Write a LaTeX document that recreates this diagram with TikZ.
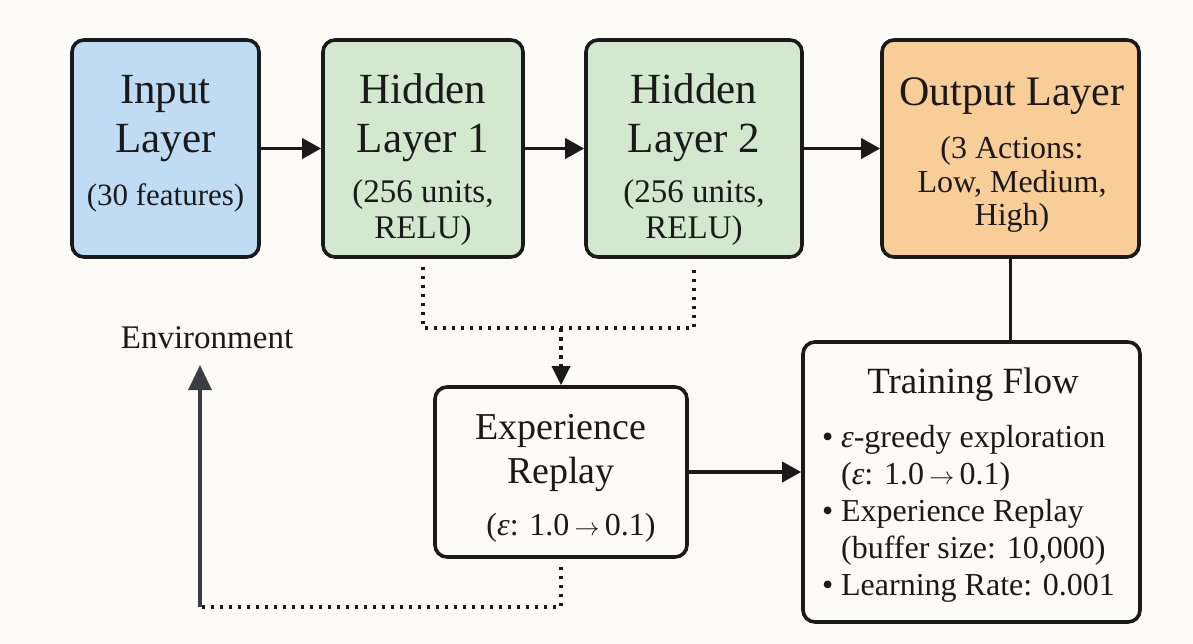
\documentclass[tikz,border=0pt]{standalone}
\usepackage{fontspec}
\setmainfont{Liberation Serif}
\usetikzlibrary{arrows.meta}

\definecolor{paper}{RGB}{252,251,247}
\definecolor{inblue}{RGB}{191,220,244}
\definecolor{hidgreen}{RGB}{212,232,207}
\definecolor{outorange}{RGB}{248,205,152}
\definecolor{ink}{RGB}{26,26,26}
\definecolor{envgray}{RGB}{58,61,66}

\newcommand{\subfont}{\fontsize{32}{36}\selectfont}
\newcommand{\eps}{\textit{ε}}
\newcommand{\goesto}{\,\ensuremath{\rightarrow}\,}

\begin{document}
\begin{tikzpicture}[x=1pt,y=-1pt,
  box/.style={draw=ink, line width=3.6pt, rounded corners=12pt, inner sep=0pt},
  layerbox/.style={box, minimum height=217pt},
  boxtext/.style={anchor=base, inner sep=0pt, text=ink, align=center},
  flow/.style={draw=ink, line width=3.6pt, -{Triangle[length=19pt,width=20pt]}},
  dotline/.style={draw=ink, line width=3.6pt, dash pattern=on 3.5pt off 5.5pt},
  plain/.style={draw=ink, line width=3.6pt},
]
% page
\fill[paper] (0,0) rectangle (1193,643);
\useasboundingbox (0,0) rectangle (1193,643);

% network layers
\node[layerbox, fill=inblue, minimum width=187pt] (in) at (165.5,148.5) {};
\node[layerbox, fill=hidgreen, minimum width=200pt] (h1) at (423,148.5) {};
\node[layerbox, fill=hidgreen, minimum width=216pt] (h2) at (694,148.5) {};
\node[layerbox, fill=outorange, minimum width=257pt] (out) at (1010.5,148.5) {};

\node[boxtext, font=\fontsize{43}{49}\selectfont] (intext) at (165.5,205)
  {Input\\Layer\\[4pt]{\fontsize{31}{35}\selectfont (30 features)}};
\node[boxtext, font=\fontsize{43}{49}\selectfont] (h1text) at (423,238)
  {Hidden\\Layer 1\\[1pt]{\fontsize{33}{36}\selectfont (256 units,}\\[-13pt]{\fontsize{33}{36}\selectfont RELU)}};
\node[boxtext, font=\fontsize{43}{49}\selectfont] (h2text) at (694,238)
  {Hidden\\Layer 2\\[1pt]{\fontsize{33}{36}\selectfont (256 units,}\\[-13pt]{\fontsize{33}{36}\selectfont RELU)}};
\node[boxtext, font=\fontsize{42}{49}\selectfont] (outtext) at (1012,225)
  {Output Layer\\[4pt]{\subfont (3 Actions:}\\[-15pt]{\subfont Low, Medium,}\\[-16pt]{\subfont High)}};

% replay buffer
\node[box, fill=paper, minimum width=252pt, minimum height=170pt] (exp) at (561,472) {};
\node[boxtext, font=\fontsize{38}{44}\selectfont] (exptext) at (561,535)
  {Experience\\Replay\\[8pt]{\subfont\hspace*{20pt}(\eps: 1.0\goesto 0.1)}};

% training summary
\node[box, fill=paper, minimum width=337pt, minimum height=280pt] (train) at (971.5,482) {};
\node[boxtext, font=\fontsize{37}{42}\selectfont] (traintitle) at (973,393) {Training Flow};
\node[anchor=base west, inner sep=0pt, text=ink, align=left, font=\fontsize{32}{37}\selectfont] (trainlist)
  at (822,595)
  {\makebox[19pt][l]{•}\eps-greedy exploration\\
   \hspace*{19pt}(\eps: 1.0\goesto 0.1)\\
   \makebox[19pt][l]{•}Experience Replay\\
   \hspace*{19pt}(buffer size: 10,000)\\
   \makebox[19pt][l]{•}Learning Rate: 0.001};

% environment label
\node[boxtext, font=\fontsize{33}{38}\selectfont] (env) at (207,348) {Environment};

% forward pass
\draw[flow] (in) -- (h1);
\draw[flow] (h1) -- (h2);
\draw[flow] (h2) -- (out);

% hidden activations gathered into the buffer
\coordinate (merge) at (561,328);
\draw[dotline] ([yshift=-8pt]h1.south) |- (merge) -| ([yshift=-8pt]h2.south);
\draw[dotline, -{Triangle[length=19pt,width=18pt]}] (merge) -- (exp.north);

% buffer to training, output to training
\draw[flow] (exp.east) -- (exp.east -| train.west);
\draw[plain] (out.south) -- (out.south |- train.north);

% loop back to the environment
\coordinate (loopR) at (561,607);
\coordinate (loopL) at (200,607);
\draw[dotline] ([yshift=-8pt]exp.south) -- (loopR) -- (loopL);
\draw[draw=envgray, line width=3.2pt, -{Triangle[length=25pt,width=23pt]}]
  (loopL) -- ([yshift=-17pt]env.base -| loopL);
\end{tikzpicture}
\end{document}
